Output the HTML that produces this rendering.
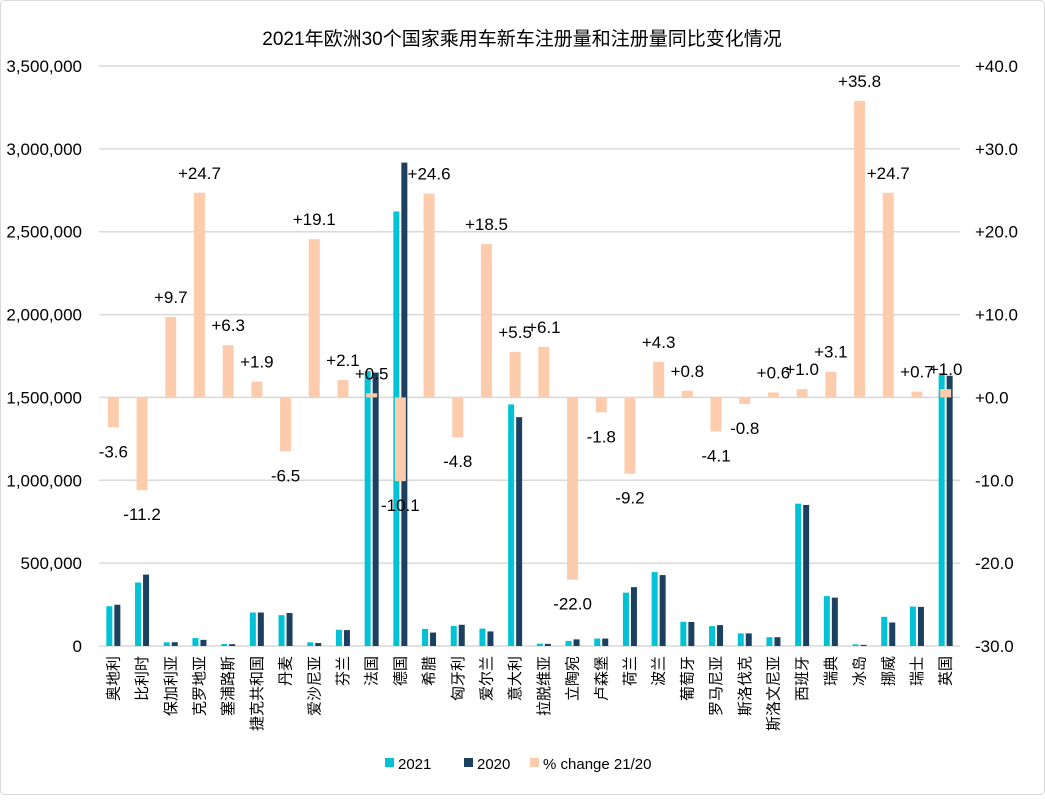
<!DOCTYPE html>
<html><head><meta charset="utf-8"><style>
body{margin:0;background:#fff}
svg text{font-family:"Liberation Sans","Noto Sans CJK SC",sans-serif;fill:#000}
</style></head><body>
<svg id="chart" width="1045" height="795">
<rect x="0.5" y="0.5" width="1044" height="794" rx="4" fill="#fff" stroke="#d9d9d9"/>
<text x="522" y="45" text-anchor="middle" font-size="19">2021年欧洲30个国家乘用车新车注册量和注册量同比变化情况</text>
<g id="grid"></g><g id="bars"></g><g id="axes"></g>
<g>
<rect x="385" y="758" width="9" height="9" fill="#00c2d6"/>
<text x="398" y="769" font-size="15">2021</text>
<rect x="464" y="758" width="9" height="9" fill="#1c4160"/>
<text x="477" y="769" font-size="15">2020</text>
<rect x="530" y="758" width="9" height="9" fill="#fdccac"/>
<text x="543" y="769" font-size="15">% change 21/20</text>
</g>
</svg>
<script>
const categories=["奥地利","比利时","保加利亚","克罗地亚","塞浦路斯","捷克共和国","丹麦","爱沙尼亚","芬兰","法国","德国","希腊","匈牙利","爱尔兰","意大利","拉脱维亚","立陶宛","卢森堡","荷兰","波兰","葡萄牙","罗马尼亚","斯洛伐克","斯洛文尼亚","西班牙","瑞典","冰岛","挪威","瑞士","英国"];
const values2021=[240000,383000,22000,48000,12000,202000,186000,22000,98000,1659000,2622000,103000,121000,105000,1458000,14000,31000,45000,322000,446000,146000,120000,76000,53000,859000,301000,10000,176000,238000,1647000];
const values2020=[249000,431000,23000,37000,11000,202000,199000,18000,96000,1650000,2917000,81000,128000,88000,1381000,13000,40000,45000,355000,428000,145000,126000,76000,53000,851000,292000,7000,142000,236000,1631000];
const pctChange=[-3.6,-11.2,9.7,24.7,6.3,1.9,-6.5,19.1,2.1,0.5,-10.1,24.6,-4.8,18.5,5.5,6.1,-22.0,-1.8,-9.2,4.3,0.8,-4.1,-0.8,0.6,1.0,3.1,35.8,24.7,0.7,1.0];
const leftTicks=[0,500000,1000000,1500000,2000000,2500000,3000000,3500000];
const rightTicks=[-30,-20,-10,0,10,20,30,40];
const X0=99,W=861,TOP=66,BOT=646,band=W/categories.length;
const yL=v=>BOT-(v/3500000)*(BOT-TOP);
const yR=v=>BOT-((v+30)/70)*(BOT-TOP);
const cx=i=>X0+band*(i+0.5);
const NS="http://www.w3.org/2000/svg";
function mk(tag,attrs,parent,txt){const e=document.createElementNS(NS,tag);for(const k in attrs)e.setAttribute(k,attrs[k]);if(txt!==undefined)e.textContent=txt;document.getElementById(parent).appendChild(e);return e;}
leftTicks.forEach((t,i)=>{
  const l=mk('line',{x1:X0,x2:X0+W,y1:yL(t),y2:yL(t),stroke:'#d9d9d9','stroke-width':1.5},'grid');
  
  
  const tx=mk('text',{x:82,y:yL(t)+6,'text-anchor':'end','font-size':17},'axes',t.toLocaleString('en-US'));
  
  
});
rightTicks.forEach(t=>{
  const tx=mk('text',{x:975,y:yR(t)+6,'font-size':17},'axes',(t>=0?'+':'')+t.toFixed(1));
  
  
});
categories.forEach((c,i)=>{
  const x=cx(i);
  const b1=mk('rect',{x:x-7,y:yL(values2021[i]),width:6,height:BOT-yL(values2021[i]),fill:'#00c2d6'},'bars');
  
  
  const b2=mk('rect',{x:x+1,y:yL(values2020[i]),width:6,height:BOT-yL(values2020[i]),fill:'#1c4160'},'bars');
  
  
  const p=pctChange[i],y0=yR(0),yp=yR(p);
  const b3=mk('rect',{x:x-5.5,y:Math.min(y0,yp),width:11,height:Math.max(Math.abs(yp-y0),1),fill:'#fdccac'},'bars');
  
  
  const ly=p>=0?yp-14:yp+30;
  const lt=mk('text',{x:x,y:ly,'text-anchor':'middle','font-size':17},'bars',(p>=0?'+':'')+p.toFixed(1));
  
  
  const ct=mk('text',{x:0,y:0,'text-anchor':'end','font-size':15,transform:`translate(${x+5},656) rotate(-90)`},'axes',c);
  
  
});
</script>
</body></html>
